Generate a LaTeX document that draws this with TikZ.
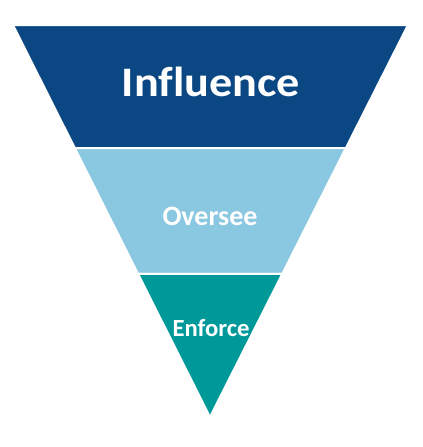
\documentclass[tikz,border=0pt]{standalone}
\usepackage{fontspec}
\setmainfont[Ligatures=CommonOff]{Carlito}
\newfontfamily\wideFont[FakeStretch=1.1,Ligatures=CommonOff]{Carlito}
\definecolor{funnelDark}{RGB}{11,71,131}
\definecolor{funnelLight}{RGB}{137,200,224}
\definecolor{funnelTeal}{RGB}{0,153,153}
\usetikzlibrary{calc}
\tikzset{
  band/.style={draw=white,line width=1.5,line join=miter},
  lbl/.style={text=white,anchor=base,inner sep=0pt,font=\bfseries#1},
  lbl/.default=\large
}

\begin{document}
\begin{tikzpicture}[x=0.75pt,y=-0.75pt]
  \useasboundingbox[fill=white] (0,0) rectangle (423,447);
  % outline of the funnel
  \coordinate (tl) at (13,25);
  \coordinate (tr) at (408,25);
  \coordinate (apex) at (210,417);
  \coordinate (ml) at ($(tl)!0.3138!(apex)$);
  \coordinate (mr) at ($(tr)!0.3138!(apex)$);
  \coordinate (bl) at ($(tl)!0.635!(apex)$);
  \coordinate (br) at ($(tr)!0.635!(apex)$);
  % the three bands
  \filldraw[band,fill=funnelDark] (tl) -- (tr) -- (mr) -- (ml) -- cycle;
  \filldraw[band,fill=funnelLight] (ml) -- (mr) -- (br) -- (bl) -- cycle;
  \filldraw[band,fill=funnelTeal] (bl) -- (br) -- (apex) -- cycle;
  % labels
  \node[lbl={\wideFont\fontsize{31.5}{34}\selectfont}] (influence) at (211,96.5) {Influence};
  \node[lbl={\fontsize{21}{24}\selectfont}] (oversee) at (210,225.7) {Oversee};
  \node[lbl={\fontsize{18.5}{21}\selectfont}] (enforce) at (211,336.7) {Enforce};
\end{tikzpicture}
\end{document}
